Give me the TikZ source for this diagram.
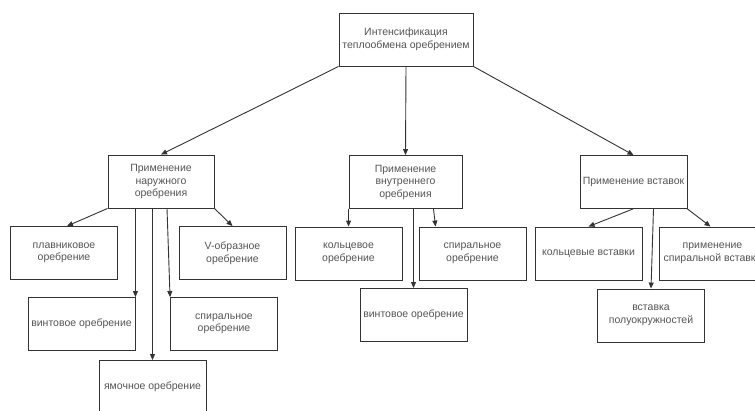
\documentclass[tikz,border=0pt]{standalone}
\usepackage{fontspec}
\setmainfont{Liberation Sans}
\usepackage{tikz}
\usetikzlibrary{arrows.meta,calc}
\definecolor{txtgray}{HTML}{555555}
\definecolor{linegray}{HTML}{333333}

\begin{document}
\begin{tikzpicture}[x=1pt,y=-1pt,
    blk/.style={draw=linegray, line width=0.9pt, minimum width=107pt, minimum height=53pt,
      inner sep=1pt, align=center, text=txtgray, font=\fontsize{10.5}{12.5}\selectfont},
    >={Triangle[length=6pt,width=5pt]}]
      \path[use as bounding box, clip] (0,0) rectangle (755,410);
      \fill[white] (0,0) rectangle (755,410);

      \node[blk, minimum width=134pt] (top) at (406,39.5) {Интенсификация\\теплообмена оребрением};

      \node[blk, minimum width=106pt] (outer) at (161,181.5) {Применение\\наружного\\оребрения};
      \node[blk, minimum width=113pt] (in) at (405.5,182) {Применение\\внутреннего\\оребрения};
      \node[blk] (ins) at (633.5,182) {Применение вставок};

      \node[blk] (plav) at (64,253) {плавниковое\\оребрение};
      \node[blk] (vobr) at (232.5,253) {V-образное\\оребрение};
      \node[blk] (vint) at (81.5,324) {винтовое оребрение};
      \node[blk] (spir) at (224,324) {спиральное\\оребрение};
      \node[blk] (yam) at (152.5,387) {ямочное оребрение};

      \node[blk] (kol) at (348.5,253.5) {кольцевое\\оребрение};
      \node[blk] (ispir) at (472.5,253.5) {спиральное\\оребрение};
      \node[blk] (ivint) at (413.5,315) {винтовое оребрение};

      \node[blk] (kolv) at (588.5,253.5) {кольцевые вставки};
      \node[blk] (spv) at (712.5,253.5) {применение\\спиральной вставки};
      \node[blk] (polu) at (651,315.5) {вставка\\полуокружностей};

      \begin{scope}[draw=linegray, line width=0.9pt]
      \draw[->] (top.south west) -- (outer.north);
      \draw[->] (top.south) -- (in.north);
      \draw[->] (top.south east) -- (ins.north);

      \draw[->] (outer.south west) -- ($(plav.north)+(3,0)$);
      \draw[->] (outer.south east) -- (vobr.north);
      \draw[->] (outer.south -| vint.north east) -- (vint.north east);
      \draw[->] (outer.south -| yam.north) -- (yam.north);
      \draw[->] ($(outer.south)+(6,0)$) -- (spir.north west);

      \draw[->] (in.south west) -- (in.south west |- kol.north);
      \draw[->] (in.south -| ivint.north) -- (ivint.north);
      \draw[->] ($(in.south)+(28,0)$) -- ($(ispir.north west)+(17,0)$);

      \draw[->] ($(ins.south)+(-0.5,0)$) -- (kolv.north);
      \draw[->] ($(ins.south)+(20,0)$) -- (polu.north);
      \draw[->] (ins.south east) -- ($(spv.north)+(-2,0)$);
      \end{scope}
    \end{tikzpicture}
\end{document}
